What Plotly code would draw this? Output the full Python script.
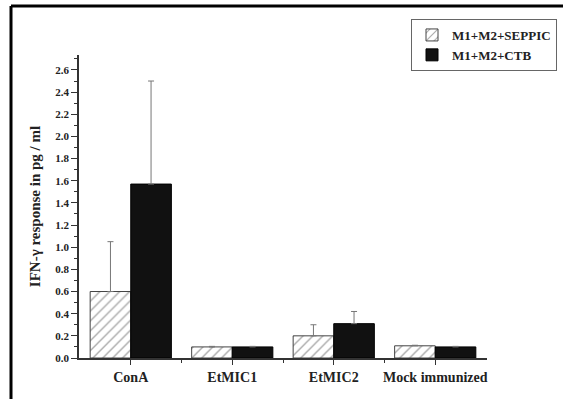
import plotly.graph_objects as go

categories = ["ConA", "EtMIC1", "EtMIC2", "Mock immunized"]
seppic = [0.60, 0.10, 0.20, 0.11]
seppic_err = [0.45, 0.005, 0.10, 0.005]
ctb = [1.57, 0.10, 0.31, 0.10]
ctb_err = [0.93, 0.005, 0.11, 0.005]
y_ticks = [round(0.2 * i, 1) for i in range(14)]

xpos = list(range(len(categories)))
W, H = 563, 399
L, R, T, B = 79, 76, 55, 41
pw, ph = W - L - R, H - T - B

fig = go.Figure()
fig.add_trace(go.Bar(
    x=xpos, y=seppic, name="M1+M2+SEPPIC",
    marker=dict(color="white", line=dict(color="#444", width=1),
                pattern=dict(shape="/", fgcolor="#555", bgcolor="white", size=7, solidity=0.2)),
    error_y=dict(type="data", array=seppic_err, arrayminus=[0]*4, symmetric=False,
                 color="#777", thickness=1, width=3),
))
fig.add_trace(go.Bar(
    x=xpos, y=ctb, name="M1+M2+CTB",
    marker=dict(color="#111", line=dict(color="#000", width=1)),
    error_y=dict(type="data", array=ctb_err, arrayminus=[0]*4, symmetric=False,
                 color="#777", thickness=1, width=3),
))

font = "Liberation Serif"
fig.update_layout(
    width=W, height=H,
    margin=dict(l=L, r=R, t=T, b=B, autoexpand=False),
    paper_bgcolor="white", plot_bgcolor="white",
    barmode="group", bargap=0.2, bargroupgap=0,
    font=dict(family=font, color="#222"),
    showlegend=True,
    legend=dict(x=(411 - L) / pw, y=(358 - 19) / ph, xanchor="left", yanchor="top",
                bordercolor="#666", borderwidth=1, bgcolor="white",
                font=dict(family=font, size=13, color="#222", weight="bold"),
                tracegroupgap=0, itemwidth=30),
    xaxis=dict(range=[-0.51, 3.51], tickvals=xpos, ticktext=categories, automargin=False,
               showline=True, linecolor="#333", linewidth=1.5, ticks="outside", ticklen=5,
               tickcolor="#333", tickfont=dict(family=font, size=14, color="#222", weight="bold"),
               showgrid=False, zeroline=False,
               minor=dict(tickvals=[0.5, 1.5, 2.5], ticks="outside", ticklen=3, tickcolor="#333")),
    yaxis=dict(range=[0, 2.735], tickvals=y_ticks, ticktext=["%.1f" % v for v in y_ticks],
               automargin=False,
               showline=True, linecolor="#333", linewidth=1.5, ticks="outside", ticklen=6,
               tickcolor="#333", tickfont=dict(family=font, size=11, color="#222", weight="bold"),
               showgrid=False, zeroline=False,
               minor=dict(dtick=0.1, ticks="outside", ticklen=3, tickcolor="#333"),
               title=dict(text="IFN-γ response in pg / ml",
                          font=dict(family=font, size=15, color="#222", weight="bold"),
                          standoff=11)),
)

fx = (11 - L) / pw
fy = (358 - 6) / ph
fxr = (W - L) / pw
fig.add_shape(type="line", xref="paper", yref="paper", x0=fx, x1=fx, y0=-B / ph, y1=fy,
              line=dict(color="black", width=3))
fig.add_shape(type="line", xref="paper", yref="paper", x0=fx, x1=fxr, y0=fy, y1=fy,
              line=dict(color="black", width=3))

fig.write_html("out.html", config={"displayModeBar": False},
               post_script="document.body.style.margin='0';")
